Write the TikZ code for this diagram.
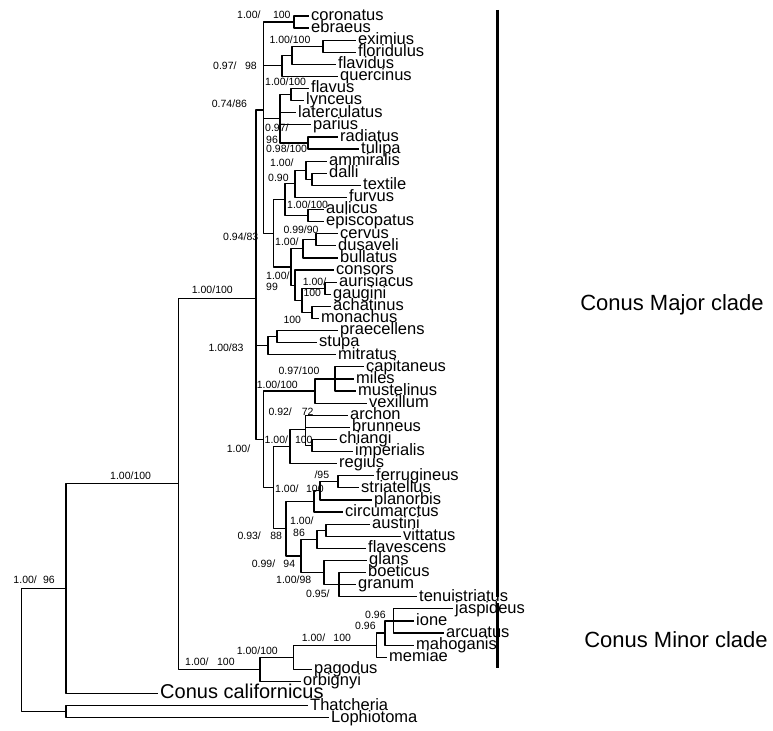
\documentclass[tikz,border=0pt]{standalone}
\usepackage{fontspec}
\setmainfont{Liberation Sans}
\begin{document}
\begin{tikzpicture}[>=latex,line join=bevel,
  branch/.style={draw=black,line width=1.2bp,line cap=rect},
  taxon/.style={anchor=west,inner xsep=3bp,inner ysep=0pt,text height=12bp,text depth=3.4bp,font=\fontsize{16.5bp}{18bp}\selectfont},
  outgroup/.style={taxon,text height=14.5bp,text depth=4bp,font=\fontsize{20bp}{22bp}\selectfont},
  supp/.style={anchor=west,inner sep=0pt,text height=7.5bp,text depth=0pt,font=\fontsize{10.5bp}{12bp}\selectfont},
  clade/.style={font=\fontsize{22bp}{26bp}\selectfont},
  cladebar/.style={draw=black,line width=3bp}]
\useasboundingbox (0bp,0bp) rectangle (773bp,731bp);
%%
\node (coronatus) at (308bp,715bp) [taxon] {coronatus};
  \node (ebraeus) at (308bp,702.9bp) [taxon] {ebraeus};
  \node (eximius) at (355bp,690.8bp) [taxon] {eximius};
  \node (floridulus) at (355bp,678.7bp) [taxon] {floridulus};
  \node (flavidus) at (335bp,666.6bp) [taxon] {flavidus};
  \node (quercinus) at (337bp,654.5bp) [taxon] {quercinus};
  \node (flavus) at (308bp,642.4bp) [taxon] {flavus};
  \node (lynceus) at (303bp,630.3bp) [taxon] {lynceus};
  \node (laterculatus) at (295bp,618.2bp) [taxon] {laterculatus};
  \node (parius) at (310bp,606.1bp) [taxon] {parius};
  \node (radiatus) at (337bp,594bp) [taxon] {radiatus};
  \node (tulipa) at (358bp,581.9bp) [taxon] {tulipa};
  \node (ammiralis) at (326bp,569.8bp) [taxon] {ammiralis};
  \node (dalli) at (326bp,557.7bp) [taxon] {dalli};
  \node (textile) at (360bp,545.6bp) [taxon] {textile};
  \node (furvus) at (346bp,533.5bp) [taxon] {furvus};
  \node (aulicus) at (323bp,521.4bp) [taxon] {aulicus};
  \node (episcopatus) at (323bp,509.3bp) [taxon] {episcopatus};
  \node (cervus) at (337bp,497.2bp) [taxon] {cervus};
  \node (dusaveli) at (335bp,485.1bp) [taxon] {dusaveli};
  \node (bullatus) at (337bp,473bp) [taxon] {bullatus};
  \node (consors) at (333bp,460.9bp) [taxon] {consors};
  \node (aurisiacus) at (336bp,448.8bp) [taxon] {aurisiacus};
  \node (gaugini) at (330bp,436.7bp) [taxon] {gaugini};
  \node (achatinus) at (330bp,424.6bp) [taxon] {achatinus};
  \node (monachus) at (318bp,412.5bp) [taxon] {monachus};
  \node (praecellens) at (337bp,400.4bp) [taxon] {praecellens};
  \node (stupa) at (316bp,388.3bp) [taxon] {stupa};
  \node (mitratus) at (335bp,376.2bp) [taxon] {mitratus};
  \node (capitaneus) at (363bp,364.1bp) [taxon] {capitaneus};
  \node (miles) at (353bp,352bp) [taxon] {miles};
  \node (mustelinus) at (355bp,339.9bp) [taxon] {mustelinus};
  \node (vexillum) at (366bp,327.8bp) [taxon] {vexillum};
  \node (archon) at (347bp,315.7bp) [taxon] {archon};
  \node (brunneus) at (349bp,303.6bp) [taxon] {brunneus};
  \node (chiangi) at (336bp,291.5bp) [taxon] {chiangi};
  \node (imperialis) at (352bp,279.4bp) [taxon] {imperialis};
  \node (regius) at (336bp,267.3bp) [taxon] {regius};
  \node (ferrugineus) at (373bp,255.2bp) [taxon] {ferrugineus};
  \node (striatellus) at (358bp,243.1bp) [taxon] {striatellus};
  \node (planorbis) at (371bp,231bp) [taxon] {planorbis};
  \node (circumarctus) at (342bp,218.9bp) [taxon] {circumarctus};
  \node (austini) at (369bp,206.8bp) [taxon] {austini};
  \node (vittatus) at (400bp,194.7bp) [taxon] {vittatus};
  \node (flavescens) at (365bp,182.6bp) [taxon] {flavescens};
  \node (glans) at (366bp,170.5bp) [taxon] {glans};
  \node (boeticus) at (365bp,158.4bp) [taxon] {boeticus};
  \node (granum) at (355bp,146.3bp) [taxon] {granum};
  \node (tenuistriatus) at (416bp,134.2bp) [taxon] {tenuistriatus};
  \node (jaspideus) at (452bp,122.1bp) [taxon] {jaspideus};
  \node (ione) at (413bp,110bp) [taxon] {ione};
  \node (arcuatus) at (443bp,97.9bp) [taxon] {arcuatus};
  \node (mahoganis) at (413bp,85.8bp) [taxon] {mahoganis};
  \node (memiae) at (386bp,73.7bp) [taxon] {memiae};
  \node (pagodus) at (311bp,61.6bp) [taxon] {pagodus};
  \node (orbignyi) at (300bp,49.5bp) [taxon] {orbignyi};
  \node (californicus) at (157bp,37.4bp) [outgroup] {Conus californicus};
  \node (thatcheria) at (307bp,25.3bp) [taxon] {Thatcheria};
  \node (lophiotoma) at (328bp,13.2bp) [taxon] {Lophiotoma};
%
\coordinate (node_A) at (294bp,708.95bp);
  \coordinate (node_EF) at (323bp,684.75bp);
  \coordinate (node_EFF) at (292bp,675.7bp);
  \coordinate (node_B) at (282bp,665.1bp);
  \coordinate (node_FL) at (291bp,636.35bp);
  \coordinate (node_RT) at (308bp,587.95bp);
  \coordinate (node_C) at (280bp,612.15bp);
  \coordinate (node_DT) at (312bp,551.65bp);
  \coordinate (node_AD) at (306bp,560.7bp);
  \coordinate (node_AMT) at (295bp,547.1bp);
  \coordinate (node_AE) at (308bp,515.35bp);
  \coordinate (node_E) at (285bp,531.2bp);
  \coordinate (node_CD) at (316bp,491.15bp);
  \coordinate (node_CDB) at (303bp,482.1bp);
  \coordinate (node_AG) at (325bp,442.75bp);
  \coordinate (node_AM) at (312bp,418.55bp);
  \coordinate (node_H) at (302bp,430.65bp);
  \coordinate (node_G) at (295bp,445.8bp);
  \coordinate (node_F) at (291bp,463.95bp);
  \coordinate (node_D) at (273.5bp,497.6bp);
  \coordinate (node_T) at (263.5bp,621bp);
  \coordinate (node_PS) at (277bp,394.35bp);
  \coordinate (node_P) at (268bp,385.3bp);
  \coordinate (node_CMM) at (335bp,352bp);
  \coordinate (node_R) at (315bp,339.9bp);
  \coordinate (node_CI) at (312bp,285.45bp);
  \coordinate (node_ABCI) at (305.5bp,301.6bp);
  \coordinate (node_S) at (290bp,284.45bp);
  \coordinate (node_FS) at (338bp,249.15bp);
  \coordinate (node_FSP) at (320bp,240.1bp);
  \coordinate (node_FSPC) at (314bp,229.5bp);
  \coordinate (node_AV) at (326bp,200.75bp);
  \coordinate (node_AVF) at (317bp,191.7bp);
  \coordinate (node_BGT) at (339bp,146.3bp);
  \coordinate (node_GL) at (324bp,158.4bp);
  \coordinate (node_X) at (301bp,175.05bp);
  \coordinate (node_V) at (286bp,202.3bp);
  \coordinate (node_U) at (273.5bp,243.4bp);
  \coordinate (node_Q) at (263.5bp,291.65bp);
  \coordinate (node_M) at (256bp,432.65bp);
  \coordinate (node_JIA) at (393.5bp,110bp);
  \coordinate (node_JIAM) at (385bp,97.9bp);
  \coordinate (node_MI3) at (376.5bp,85.8bp);
  \coordinate (node_MI2) at (293.5bp,73.7bp);
  \coordinate (node_MI1) at (260bp,61.6bp);
  \coordinate (node_CON) at (178.5bp,247.1bp);
  \coordinate (node_IN) at (66bp,142.25bp);
  \coordinate (node_TL) at (66bp,19.25bp);
  \coordinate (node_ROOT) at (21.5bp,80.75bp);
%
\draw [branch] (node_A) |- (coronatus);
  \draw [branch] (node_A) |- (ebraeus);
  \draw [branch] (node_EF) |- (eximius);
  \draw [branch] (node_EF) |- (floridulus);
  \draw [branch] (node_EFF) |- (node_EF);
  \draw [branch] (node_EFF) |- (flavidus);
  \draw [branch] (node_B) |- (node_EFF);
  \draw [branch] (node_B) |- (quercinus);
  \draw [branch] (node_FL) |- (flavus);
  \draw [branch] (node_FL) |- (lynceus);
  \draw [branch] (node_RT) |- (radiatus);
  \draw [branch] (node_RT) |- (tulipa);
  \draw [branch] (node_C) |- (node_FL);
  \draw [branch] (node_C) |- (laterculatus);
  \draw [branch] (node_C) |- (parius);
  \draw [branch] (node_C) |- (node_RT);
  \draw [branch] (node_DT) |- (dalli);
  \draw [branch] (node_DT) |- (textile);
  \draw [branch] (node_AD) |- (ammiralis);
  \draw [branch] (node_AD) |- (node_DT);
  \draw [branch] (node_AMT) |- (node_AD);
  \draw [branch] (node_AMT) |- (furvus);
  \draw [branch] (node_AE) |- (aulicus);
  \draw [branch] (node_AE) |- (episcopatus);
  \draw [branch] (node_E) |- (node_AMT);
  \draw [branch] (node_E) |- (node_AE);
  \draw [branch] (node_CD) |- (cervus);
  \draw [branch] (node_CD) |- (dusaveli);
  \draw [branch] (node_CDB) |- (node_CD);
  \draw [branch] (node_CDB) |- (bullatus);
  \draw [branch] (node_AG) |- (aurisiacus);
  \draw [branch] (node_AG) |- (gaugini);
  \draw [branch] (node_AM) |- (achatinus);
  \draw [branch] (node_AM) |- (monachus);
  \draw [branch] (node_H) |- (node_AG);
  \draw [branch] (node_H) |- (node_AM);
  \draw [branch] (node_G) |- (consors);
  \draw [branch] (node_G) |- (node_H);
  \draw [branch] (node_F) |- (node_CDB);
  \draw [branch] (node_F) |- (node_G);
  \draw [branch] (node_D) |- (node_E);
  \draw [branch] (node_D) |- (node_F);
  \draw [branch] (node_T) |- (node_A);
  \draw [branch] (node_T) |- (node_B);
  \draw [branch] (node_T) |- (node_C);
  \draw [branch] (node_T) |- (node_D);
  \draw [branch] (node_PS) |- (praecellens);
  \draw [branch] (node_PS) |- (stupa);
  \draw [branch] (node_P) |- (node_PS);
  \draw [branch] (node_P) |- (mitratus);
  \draw [branch] (node_CMM) |- (capitaneus);
  \draw [branch] (node_CMM) |- (miles);
  \draw [branch] (node_CMM) |- (mustelinus);
  \draw [branch] (node_R) |- (node_CMM);
  \draw [branch] (node_R) |- (vexillum);
  \draw [branch] (node_CI) |- (chiangi);
  \draw [branch] (node_CI) |- (imperialis);
  \draw [branch] (node_ABCI) |- (archon);
  \draw [branch] (node_ABCI) |- (brunneus);
  \draw [branch] (node_ABCI) |- (node_CI);
  \draw [branch] (node_S) |- (node_ABCI);
  \draw [branch] (node_S) |- (regius);
  \draw [branch] (node_FS) |- (ferrugineus);
  \draw [branch] (node_FS) |- (striatellus);
  \draw [branch] (node_FSP) |- (node_FS);
  \draw [branch] (node_FSP) |- (planorbis);
  \draw [branch] (node_FSPC) |- (node_FSP);
  \draw [branch] (node_FSPC) |- (circumarctus);
  \draw [branch] (node_AV) |- (austini);
  \draw [branch] (node_AV) |- (vittatus);
  \draw [branch] (node_AVF) |- (node_AV);
  \draw [branch] (node_AVF) |- (flavescens);
  \draw [branch] (node_BGT) |- (boeticus);
  \draw [branch] (node_BGT) |- (granum);
  \draw [branch] (node_BGT) |- (tenuistriatus);
  \draw [branch] (node_GL) |- (glans);
  \draw [branch] (node_GL) |- (node_BGT);
  \draw [branch] (node_X) |- (node_AVF);
  \draw [branch] (node_X) |- (node_GL);
  \draw [branch] (node_V) |- (node_FSPC);
  \draw [branch] (node_V) |- (node_X);
  \draw [branch] (node_U) |- (node_S);
  \draw [branch] (node_U) |- (node_V);
  \draw [branch] (node_Q) |- (node_R);
  \draw [branch] (node_Q) |- (node_U);
  \draw [branch] (node_M) |- (node_T);
  \draw [branch] (node_M) |- (node_P);
  \draw [branch] (node_M) |- (node_Q);
  \draw [branch] (node_JIA) |- (jaspideus);
  \draw [branch] (node_JIA) |- (ione);
  \draw [branch] (node_JIA) |- (arcuatus);
  \draw [branch] (node_JIAM) |- (node_JIA);
  \draw [branch] (node_JIAM) |- (mahoganis);
  \draw [branch] (node_MI3) |- (node_JIAM);
  \draw [branch] (node_MI3) |- (memiae);
  \draw [branch] (node_MI2) |- (node_MI3);
  \draw [branch] (node_MI2) |- (pagodus);
  \draw [branch] (node_MI1) |- (node_MI2);
  \draw [branch] (node_MI1) |- (orbignyi);
  \draw [branch] (node_CON) |- (node_M);
  \draw [branch] (node_CON) |- (node_MI1);
  \draw [branch] (node_IN) |- (node_CON);
  \draw [branch] (node_IN) |- (californicus);
  \draw [branch] (node_TL) |- (thatcheria);
  \draw [branch] (node_TL) |- (lophiotoma);
  \draw [branch] (node_ROOT) |- (node_IN);
  \draw [branch] (node_ROOT) |- (node_TL);
%
\node (lab_1) at (237bp,716bp) [supp] {1.00/\hspace{12.5bp}100};
  \node (lab_2) at (269.3bp,691bp) [supp] {1.00/100};
  \node (lab_3) at (213bp,665.3bp) [supp] {0.97/\hspace{8.6bp}98};
  \node (lab_4) at (265bp,649.3bp) [supp] {1.00/100};
  \node (lab_5) at (211.7bp,627.7bp) [supp] {0.74/86};
  \node (lab_6) at (265bp,603.5bp) [supp] {0.97/};
  \node (lab_7) at (266bp,591bp) [supp] {96};
  \node (lab_8) at (266bp,582bp) [supp] {0.98/100};
  \node (lab_9) at (270bp,568bp) [supp] {1.00/};
  \node (lab_10) at (268bp,553bp) [supp] {0.90};
  \node (lab_11) at (287bp,526.5bp) [supp] {1.00/100};
  \node (lab_12) at (223bp,494bp) [supp] {0.94/83};
  \node (lab_13) at (283.3bp,501bp) [supp] {0.99/90};
  \node (lab_14) at (275bp,489.5bp) [supp] {1.00/};
  \node (lab_15) at (266bp,455.5bp) [supp] {1.00/};
  \node (lab_16) at (266bp,444bp) [supp] {99};
  \node (lab_17) at (302.7bp,449.3bp) [supp] {1.00/};
  \node (lab_18) at (303.3bp,438bp) [supp] {100};
  \node (lab_19) at (283.3bp,411bp) [supp] {100};
  \node (lab_20) at (191.7bp,441bp) [supp] {1.00/100};
  \node (lab_21) at (208.3bp,383.7bp) [supp] {1.00/83};
  \node (lab_22) at (278.3bp,360.3bp) [supp] {0.97/100};
  \node (lab_23) at (256.7bp,346bp) [supp] {1.00/100};
  \node (lab_24) at (268.3bp,319.3bp) [supp] {0.92/\hspace{10bp}72};
  \node (lab_25) at (226.7bp,282bp) [supp] {1.00/};
  \node (lab_26) at (264.5bp,291bp) [supp] {1.00/\hspace{7bp}100};
  \node (lab_27) at (314.3bp,256bp) [supp] {/95};
  \node (lab_28) at (275bp,242bp) [supp] {1.00/\hspace{7.6bp}100};
  \node (lab_29) at (290bp,210bp) [supp] {1.00/};
  \node (lab_30) at (293bp,198.5bp) [supp] {86};
  \node (lab_31) at (237.3bp,195bp) [supp] {0.93/\hspace{9.4bp}88};
  \node (lab_32) at (251.7bp,167.7bp) [supp] {0.99/\hspace{8.2bp}94};
  \node (lab_33) at (276bp,151.7bp) [supp] {1.00/98};
  \node (lab_34) at (306bp,137.7bp) [supp] {0.95/};
  \node (lab_35) at (365bp,116bp) [supp] {0.96};
  \node (lab_36) at (355bp,105bp) [supp] {0.96};
  \node (lab_37) at (301.7bp,93.7bp) [supp] {1.00/\hspace{8.2bp}100};
  \node (lab_38) at (236.7bp,80.3bp) [supp] {1.00/100};
  \node (lab_39) at (185bp,69.3bp) [supp] {1.00/\hspace{8.6bp}100};
  \node (lab_40) at (110bp,255bp) [supp] {1.00/100};
  \node (lab_41) at (13.3bp,151.7bp) [supp] {1.00/\hspace{6.3bp}96};
%
\coordinate (major_top) at (497bp,721bp);
  \coordinate (major_bottom) at (497bp,134bp);
  \coordinate (minor_top) at (497bp,128bp);
  \coordinate (minor_bottom) at (497bp,63bp);
  \draw [cladebar] (major_top) -- (major_bottom);
  \draw [cladebar] (minor_top) -- (minor_bottom);
  \node (major_clade) at (672bp,426bp) [clade] {Conus Major clade};
  \node (minor_clade) at (676bp,91bp) [clade] {Conus Minor clade};
%
\end{tikzpicture}
\end{document}
